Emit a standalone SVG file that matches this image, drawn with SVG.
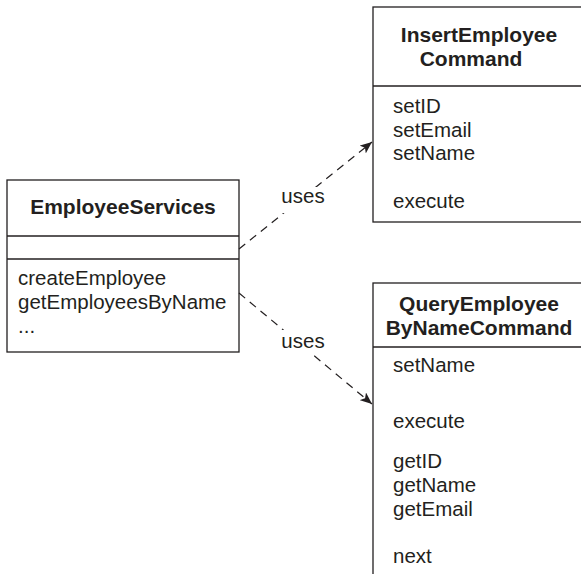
<svg xmlns="http://www.w3.org/2000/svg" width="581" height="574" viewBox="0 0 581 574">
<style>
.box{fill:#fff;stroke:#231f20;stroke-width:1.3}
.div{stroke:#231f20;stroke-width:1.3}
.t{font-family:"Liberation Sans",Arial,sans-serif;font-size:20.5px;fill:#231f20}
.b{font-weight:bold;font-size:21px}
.c{stroke:#231f20;stroke-width:1.2;stroke-dasharray:8 6;fill:none}
.bg{fill:#fff}
</style>
<defs>
<marker id="ah" viewBox="0 0 12 10" refX="12" refY="5" markerWidth="12" markerHeight="10" markerUnits="userSpaceOnUse" orient="auto">
<path d="M0,0 L12,5 L0,10 L3,5 Z" fill="#231f20"/>
</marker>
</defs>
<rect width="581" height="574" fill="#fff"/>
<g id="EmployeeServices">
<rect class="box" x="7" y="180" width="232" height="172"/>
<line class="div" x1="7" y1="236" x2="239" y2="236"/>
<line class="div" x1="7" y1="259" x2="239" y2="259"/>
<text class="t b" x="123" y="214" text-anchor="middle">EmployeeServices</text>
<text class="t" x="18" y="285">createEmployee</text>
<text class="t" x="18" y="309">getEmployeesByName</text>
<text class="t" x="18" y="333">...</text>
</g>
<g id="InsertEmployeeCommand">
<rect class="box" x="373" y="7" width="220" height="215"/>
<line class="div" x1="373" y1="86" x2="581" y2="86"/>
<text class="t b" x="479" y="42" text-anchor="middle">InsertEmployee</text>
<text class="t b" x="471" y="65.5" text-anchor="middle">Command</text>
<text class="t" x="393" y="113">setID</text>
<text class="t" x="393" y="136.5">setEmail</text>
<text class="t" x="393" y="160">setName</text>
<text class="t" x="393" y="208">execute</text>
</g>
<g id="QueryEmployeeByNameCommand">
<rect class="box" x="373" y="283" width="220" height="300"/>
<line class="div" x1="373" y1="347" x2="581" y2="347"/>
<text class="t b" x="479" y="311" text-anchor="middle">QueryEmployee</text>
<text class="t b" x="479" y="334.5" text-anchor="middle">ByNameCommand</text>
<text class="t" x="393" y="372">setName</text>
<text class="t" x="393" y="428">execute</text>
<text class="t" x="393" y="468">getID</text>
<text class="t" x="393" y="492">getName</text>
<text class="t" x="393" y="516">getEmail</text>
<text class="t" x="393" y="563">next</text>
</g>
<g id="connectors">
<line class="c" x1="239" y1="249" x2="372" y2="142" marker-end="url(#ah)"/>
<line class="c" x1="239" y1="293" x2="372" y2="404" marker-end="url(#ah)"/>
<rect class="bg" x="280" y="187" width="46" height="26"/>
<rect class="bg" x="280" y="330" width="46" height="25"/>
<text class="t" x="303" y="203" text-anchor="middle">uses</text>
<text class="t" x="303" y="348" text-anchor="middle">uses</text>
</g>
</svg>
